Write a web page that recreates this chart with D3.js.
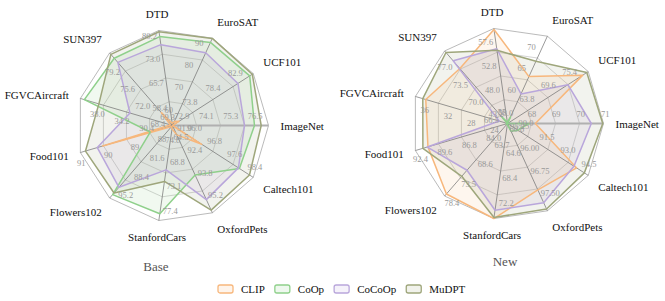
<!DOCTYPE html>
<html>
<head>
<meta charset="utf-8">
<script src="https://cdn.jsdelivr.net/npm/d3@7"></script>
<style>
  body { margin: 0; background: #fff; }
  svg text { font-family: "Liberation Serif", "DejaVu Serif", serif; }
</style>
</head>
<body>
<div id="chart"></div>
<script>
const width = 665, height = 301;

// axes, counter-clockwise from the right
const categories = ["ImageNet", "UCF101", "EuroSAT", "DTD", "SUN397", "FGVCAircraft",
  "Food101", "Flowers102", "StanfordCars", "OxfordPets", "Caltech101"];
const seriesNames = ["CLIP", "CoOp", "CoCoOp", "MuDPT"];
const colors = ["#f7b77c", "#8fd08b", "#b9a6db", "#9ea67b"];

// Base panel
const baseMin = [72.43, 69.2, 54.66, 52.57, 66.7, 26.85, 87.5, 71.7, 62.78, 90.59, 95.34];
const baseMax = [77.16, 85.4, 94.1, 81.29, 81.7, 41.05, 90.93, 98.9, 79.3, 96.02, 98.55];
const baseTicks = [
  ["72.9", "74.1", "75.3", "76.5"],
  ["69.3", "73.8", "78.4", "82.9"],
  ["60", "70", "80", "90"],
  ["58.4", "65.7", "73.0", "80.2"],
  ["68.4", "72.0", "75.6", "79.2"],
  ["26.6", "30.4", "34.2", "38.0"],
  ["88", "89", "90", "91"],
  ["74.8", "81.6", "88.4", "95.2"],
  ["64.5", "68.8", "73.1", "77.4"],
  ["91.0", "92.4", "93.8", "95.2"],
  ["96.0", "96.8", "97.6", "98.4"]
];
const baseCLIP   = [72.43, 70.53, 56.48, 53.24, 69.36, 27.19, 90.10, 72.08, 63.37, 91.17, 96.5];
const baseCoOp   = [76.47, 84.69, 92.19, 79.44, 80.60, 40.44, 88.33, 97.60, 78.12, 93.67, 98.00];
const baseCoCoOp = [75.98, 82.33, 87.49, 77.01, 79.74, 33.41, 90.3, 94.87, 70.49, 95.20, 97.96];
const baseMuDPT  = [76.8, 85.2, 94.0, 80.9, 81.4, 38.2, 90.74, 97.0, 72.5, 95.85, 98.4];

// New panel
const newMin = [67.0, 57.0, 53.2, 40.9, 64.58, 22.27, 82.1, 59.85, 60.22, 95.03, 89.07];
const newMax = [70.93, 79.0, 73.4, 60.1, 78.8, 38.07, 92.66, 78.32, 74.87, 97.96, 94.83];
const newTicks = [
  ["68", "69", "70", "71"],
  ["58.0", "63.8", "69.6", "75.4"],
  ["55", "60", "65", "70"],
  ["43.2", "48.0", "52.8", "57.6"],
  ["66.5", "70.0", "73.5", "77.0"],
  ["24", "28", "32", "36"],
  ["84.0", "86.8", "89.6", "92.4"],
  ["63.7", "68.6", "73.5", "78.4"],
  ["60.8", "64.6", "68.4", "72.2"],
  ["95.25", "96.00", "96.75", "97.50"],
  ["90.0", "91.5", "93.0", "94.5"]
];
const newCLIP   = [68.14, 77.50, 64.05, 59.90, 75.35, 36.29, 91.22, 77.80, 74.89, 97.26, 94.00];
const newCoOp   = [67.88, 56.05, 54.74, 41.18, 65.89, 22.30, 82.26, 59.67, 60.40, 95.29, 89.81];
const newCoCoOp = [70.43, 73.45, 60.04, 56.00, 76.86, 23.71, 91.29, 71.75, 73.59, 97.69, 93.81];
const newMuDPT  = [70.9, 78.6, 67.6, 55.7, 78.5, 36.8, 91.8, 73.3, 74.7, 97.9, 94.55];

const svg = d3.select("#chart").append("svg")
  .attr("width", width)
  .attr("height", height);

const n = categories.length;
const angle = i => i * 2 * Math.PI / n;

function drawRadar(cx, cy, R, mins, maxs, ticks, series, title, titleX, titleY) {
  const g = svg.append("g");
  const scales = categories.map((c, i) =>
    d3.scaleLinear().domain([mins[i], maxs[i]]).range([0, R]).clamp(true));
  const pt = (i, r) => [cx + r * Math.cos(angle(i)), cy - r * Math.sin(angle(i))];

  // rings
  const ring = d3.line().curve(d3.curveLinearClosed);
  [0.25, 0.5, 0.75].forEach(f => {
    g.append("path")
      .attr("d", ring(categories.map((c, i) => pt(i, f * R))))
      .attr("fill", "none").attr("stroke", "#b5b5b5").attr("stroke-width", 0.6);
  });
  g.append("path")
    .attr("d", ring(categories.map((c, i) => pt(i, R))))
    .attr("fill", "none").attr("stroke", "#a8a8a8").attr("stroke-width", 0.8);

  // series areas
  series.forEach((vals, s) => {
    g.append("path")
      .attr("d", ring(vals.map((v, i) => pt(i, scales[i](v)))))
      .attr("fill", colors[s]).attr("fill-opacity", 0.13)
      .attr("stroke", "none");
  });

  // spokes
  categories.forEach((c, i) => {
    const [x, y] = pt(i, R);
    g.append("line")
      .attr("x1", cx).attr("y1", cy).attr("x2", x).attr("y2", y)
      .attr("stroke", i === 0 ? "#b0b0b0" : "#6e6e6e")
      .attr("stroke-width", i === 0 ? 1.8 : 0.7);
  });

  series.forEach((vals, s) => {
    g.append("path")
      .attr("d", ring(vals.map((v, i) => pt(i, scales[i](v)))))
      .attr("fill", "none")
      .attr("stroke", colors[s]).attr("stroke-width", 1.5)
      .attr("stroke-linejoin", "round");
  });

  // per-axis tick labels, on the counter-clockwise side of each spoke
  categories.forEach((c, i) => {
    const a = angle(i);
    const px = -Math.sin(a), py = -Math.cos(a);
    const sc = d3.scaleLinear().domain([mins[i], maxs[i]]).range([0, R]);
    ticks[i].forEach(t => {
      const r = sc(+t);
      if (r < 0) return;
      const [x, y] = pt(i, r);
      g.append("text")
        .attr("x", x + px * 10).attr("y", y + py * 10)
        .attr("text-anchor", "middle").attr("dominant-baseline", "central")
        .attr("font-size", 8.5).attr("fill", "#999")
        .text(t);
    });
  });

  // axis names
  categories.forEach((c, i) => {
    const a = angle(i);
    const ca = Math.cos(a), sa = Math.sin(a);
    const [x, y] = pt(i, R + 12);
    g.append("text")
      .attr("x", x)
      .attr("y", y + (sa > 0.3 ? -5 : sa < -0.3 ? 5 : 0))
      .attr("text-anchor", ca > 0.25 ? "start" : ca < -0.25 ? "end" : "middle")
      .attr("dominant-baseline", "central")
      .attr("font-size", 11).attr("fill", "#111")
      .text(c);
  });

  g.append("text")
    .attr("x", titleX).attr("y", titleY)
    .attr("text-anchor", "middle").attr("dominant-baseline", "central")
    .attr("font-size", 13).attr("fill", "#555")
    .text(title);
}

drawRadar(172.5, 125.5, 96, baseMin, baseMax, baseTicks,
  [baseCLIP, baseCoOp, baseCoCoOp, baseMuDPT], "Base", 156, 266);
drawRadar(507.5, 123.5, 96, newMin, newMax, newTicks,
  [newCLIP, newCoOp, newCoCoOp, newMuDPT], "New", 505, 261);

// legend
const legend = svg.append("g").attr("transform", "translate(218,289)");
let lx = 0;
seriesNames.forEach((name, s) => {
  legend.append("rect")
    .attr("x", lx).attr("y", -4).attr("width", 15).attr("height", 8).attr("rx", 2)
    .attr("fill", colors[s]).attr("fill-opacity", 0.15)
    .attr("stroke", colors[s]).attr("stroke-width", 1.3);
  const t = legend.append("text")
    .attr("x", lx + 23).attr("y", 0)
    .attr("dominant-baseline", "central")
    .attr("font-size", 11).attr("fill", "#111")
    .text(name);
  lx += 23 + t.node().getComputedTextLength() + 10;
});
</script>
</body>
</html>
